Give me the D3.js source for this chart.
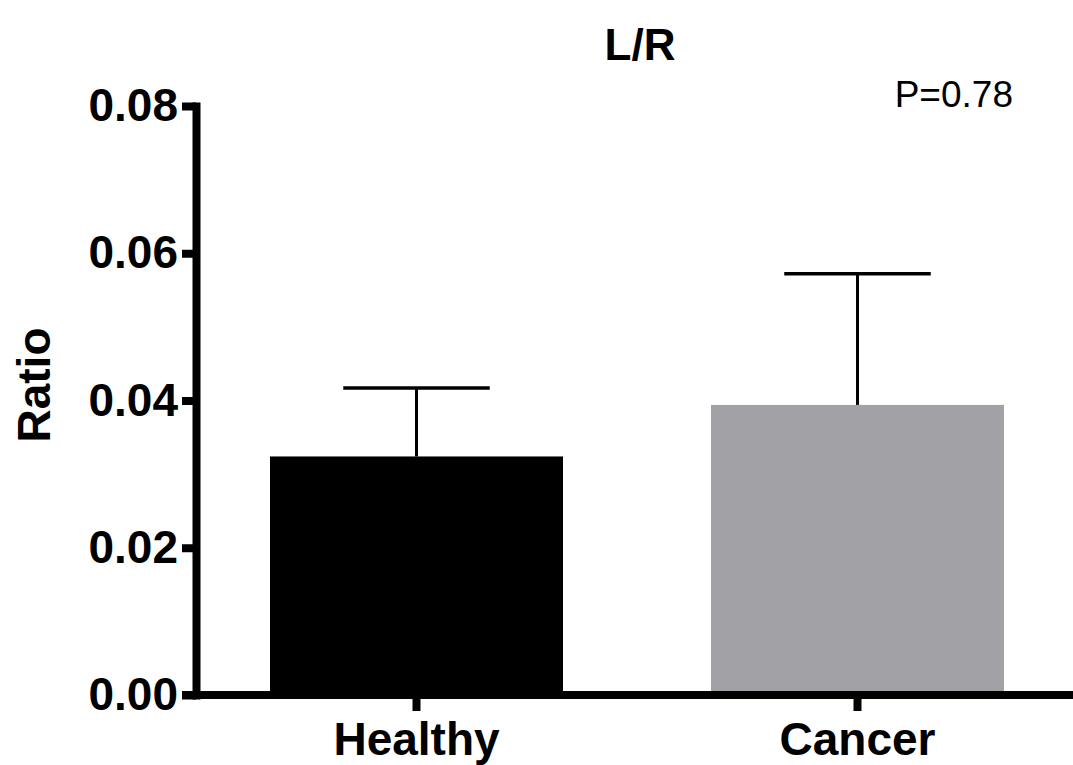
<!DOCTYPE html>
<html>
<head>
<meta charset="utf-8">
<script src="https://cdn.jsdelivr.net/npm/d3@7"></script>
<style>
  body { margin: 0; background: #fff; }
  text { font-family: "Liberation Sans", Arial, sans-serif; }
</style>
</head>
<body>
<div id="chart"></div>
<script>
const categories = ["Healthy", "Cancer"];
const means = [0.0324, 0.0394];
const errorTops = [0.0417, 0.0572];
const barColors = ["#000000", "#a2a1a5"];
const yTicks = [0, 0.02, 0.04, 0.06, 0.08];
const title = "L/R";
const yLabel = "Ratio";
const pLabel = "P=0.78";

const W = 1073, H = 765;
const svg = d3.select("#chart").append("svg")
    .attr("width", W)
    .attr("height", H);

const x = d3.scaleBand()
    .domain(categories)
    .range([196, 1078])
    .paddingInner(0.3356)
    .paddingOuter(0.1678);

const y = d3.scaleLinear()
    .domain([0, 0.08])
    .range([695, 106]);

// bars
svg.selectAll("rect.bar")
    .data(categories)
    .enter().append("rect")
    .attr("class", "bar")
    .attr("x", d => x(d))
    .attr("y", (d, i) => y(means[i]))
    .attr("width", x.bandwidth())
    .attr("height", (d, i) => y(0) - y(means[i]))
    .attr("fill", (d, i) => barColors[i]);

// error bars (upper only)
categories.forEach((c, i) => {
    const cx = x(c) + x.bandwidth() / 2;
    const capHalf = x.bandwidth() / 4;
    svg.append("line")
        .attr("x1", cx).attr("x2", cx)
        .attr("y1", y(means[i])).attr("y2", y(errorTops[i]))
        .attr("stroke", "#000").attr("stroke-width", 3);
    svg.append("line")
        .attr("x1", cx - capHalf).attr("x2", cx + capHalf)
        .attr("y1", y(errorTops[i])).attr("y2", y(errorTops[i]))
        .attr("stroke", "#000").attr("stroke-width", 3.5);
});

// y axis
const yAxis = svg.append("g")
    .attr("transform", "translate(196,0)")
    .call(d3.axisLeft(y).tickValues(yTicks).tickFormat(d3.format(".2f"))
        .tickSize(14).tickSizeOuter(0).tickPadding(4));
yAxis.select(".domain")
    .attr("stroke-width", 8)
    .attr("stroke-linecap", "square");
yAxis.selectAll(".tick line").attr("stroke-width", 8);
yAxis.selectAll(".tick text")
    .attr("font-size", 46)
    .attr("font-weight", "bold")
    .attr("fill", "#000")
    .style("font-family", "'Liberation Sans', Arial, sans-serif");

// x axis
const xAxis = svg.append("g")
    .attr("transform", "translate(0,695)")
    .call(d3.axisBottom(x).tickSize(16).tickSizeOuter(0).tickPadding(11));
xAxis.select(".domain")
    .attr("d", "M182,0H1073")
    .attr("stroke-width", 8);
xAxis.selectAll(".tick line").attr("stroke-width", 8);
xAxis.selectAll(".tick text")
    .attr("font-size", 46)
    .attr("font-weight", "bold")
    .attr("fill", "#000")
    .style("font-family", "'Liberation Sans', Arial, sans-serif");

// title
svg.append("text")
    .attr("x", 640)
    .attr("y", 60)
    .attr("text-anchor", "middle")
    .attr("font-size", 44)
    .attr("font-weight", "bold")
    .text(title);

// y label
svg.append("text")
    .attr("transform", "translate(50,385) rotate(-90)")
    .attr("text-anchor", "middle")
    .attr("font-size", 46)
    .attr("font-weight", "bold")
    .text(yLabel);

// p value
svg.append("text")
    .attr("x", 1013)
    .attr("y", 107)
    .attr("text-anchor", "end")
    .attr("font-size", 37)
    .text(pLabel);
</script>
</body>
</html>
